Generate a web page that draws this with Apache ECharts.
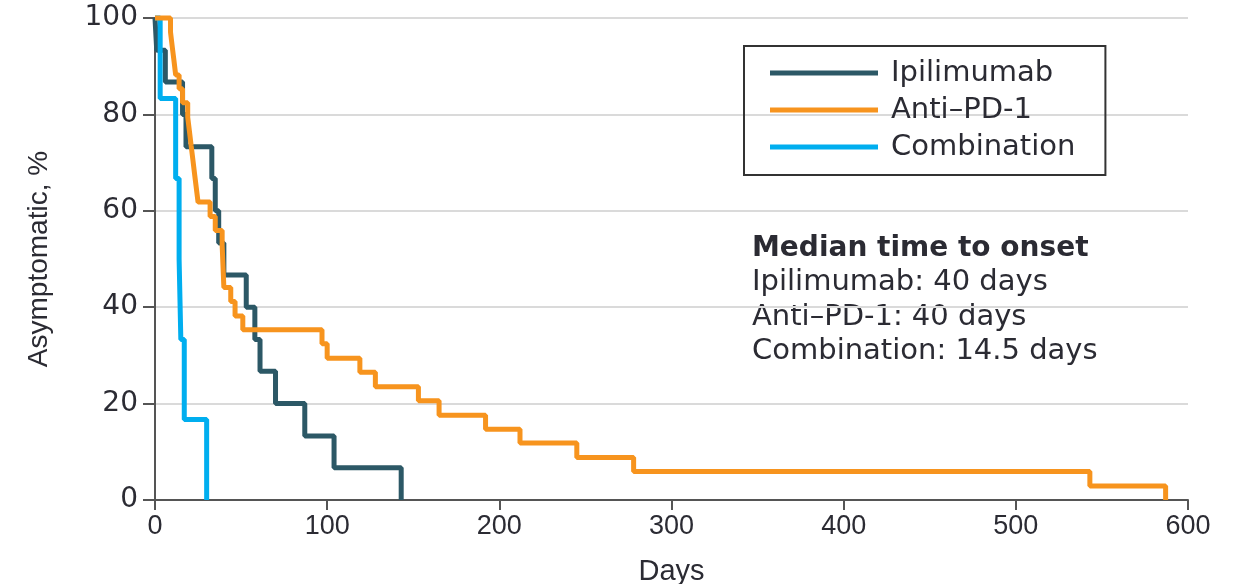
<!DOCTYPE html>
<html>
<head>
<meta charset="utf-8">
<script src="https://cdn.jsdelivr.net/npm/echarts@6/dist/echarts.min.js"></script>
<style>
html, body { margin: 0; padding: 0; background: #fff; }
#echart_km { width: 1233px; height: 584px; }
</style>
</head>
<body>
<div id="echart_km"></div>
<script>
// Kaplan-Meier steps (day of event, % asymptomatic after it)
var ipiDays = [0, 1, 6, 16, 18, 33, 35, 37, 40, 53, 58, 61, 70, 87, 104, 143];
var ipiPct = [100, 93.3, 86.7, 80, 73.3, 66.7, 60, 53.3, 46.7, 40, 33.3, 26.7, 20, 13.3, 6.7, 0];

var pd1Days = [0, 9, 10, 11, 12, 14, 16, 19, 20, 21, 22, 23, 24, 25, 32, 35, 39, 40, 44, 46.5, 51,
    97, 100, 119, 128, 153, 165, 192, 212, 245, 278, 543, 587];
var pd1Pct = [100, 97.1, 94.1, 91.2, 88.2, 85.3, 82.4, 79.4, 76.5, 73.5, 70.6, 67.6, 64.7, 61.8, 58.8, 55.9, 52.9, 44.1, 41.2, 38.2, 35.3,
    32.4, 29.4, 26.5, 23.5, 20.6, 17.6, 14.7, 11.8, 8.8, 5.9, 2.9, 0];

var comboDays = [0, 3, 12, 14, 15, 17, 30];
var comboPct = [100, 83.3, 66.7, 50, 33.3, 16.7, 0];

var seriesNames = ['Ipilimumab', 'Anti–PD-1', 'Combination'];
var xTicks = [0, 600, 100];
var yTicks = [0, 100, 20];
var medianLines = ['Ipilimumab: 40 days', 'Anti–PD-1: 40 days', 'Combination: 14.5 days'];

function pairs(xs, ys) {
    return xs.map(function (x, i) { return [x, ys[i]]; });
}

var textColor = '#2b2b33';

var myChart_km = echarts.init(document.getElementById('echart_km'));
var option_km = {
    animation: false,
    grid: { left: 155, right: 45, top: 18, bottom: 84, outerBoundsMode: 'none' },
    legend: {
        orient: 'vertical',
        left: 744,
        top: 46,
        data: seriesNames,
        icon: 'rect',
        itemWidth: 108,
        itemHeight: 5,
        itemGap: 7,
        itemStyle: { borderWidth: 0 },
        padding: [12, 30, 13, 26],
        borderColor: '#333',
        borderWidth: 2,
        textStyle: { fontFamily: 'DejaVu Sans', fontSize: 29, color: textColor, lineHeight: 30, padding: [0, 0, 0, 8] }
    },
    xAxis: {
        type: 'value',
        min: xTicks[0], max: xTicks[1], interval: xTicks[2],
        name: 'Days',
        nameLocation: 'middle',
        nameGap: 57,
        nameTextStyle: { fontFamily: 'Liberation Sans', fontSize: 29, color: textColor },
        axisLine: { show: true, lineStyle: { color: '#555', width: 2 } },
        axisTick: { show: true, length: 10, lineStyle: { color: '#555', width: 2 } },
        axisLabel: { margin: 13, fontFamily: 'Liberation Sans', fontSize: 27, color: textColor },
        splitLine: { show: false }
    },
    yAxis: {
        type: 'value',
        min: yTicks[0], max: yTicks[1], interval: yTicks[2],
        name: 'Asymptomatic, %',
        nameLocation: 'middle',
        nameGap: 102,
        nameTextStyle: { fontFamily: 'Liberation Sans', fontSize: 28, color: textColor },
        axisLine: { show: true, lineStyle: { color: '#555', width: 2 } },
        axisTick: { show: true, length: 12, lineStyle: { color: '#555', width: 2 } },
        axisLabel: { margin: 17, fontFamily: 'DejaVu Sans', fontSize: 28, color: textColor },
        splitLine: { show: true, lineStyle: { color: '#dadada', width: 2 } }
    },
    graphic: [{
        type: 'text',
        left: 752,
        top: 231,
        style: {
            text: '{b|Median time to onset}\n' + medianLines.join('\n'),
            fill: textColor,
            font: '29px "DejaVu Sans"',
            lineHeight: 34.5,
            rich: { b: { fontWeight: 'bold', fontSize: 28, fontFamily: 'DejaVu Sans', lineHeight: 34.5 } }
        }
    }],
    series: [
        {
            name: seriesNames[0], type: 'line', step: 'end', showSymbol: false, clip: false,
            data: pairs(ipiDays, ipiPct),
            lineStyle: { color: '#2c5866', width: 5 }, itemStyle: { color: '#2c5866' }, z: 2
        },
        {
            name: seriesNames[2], type: 'line', step: 'end', showSymbol: false, clip: false,
            data: pairs(comboDays, comboPct),
            lineStyle: { color: '#00aeef', width: 5 }, itemStyle: { color: '#00aeef' }, z: 3
        },
        {
            name: seriesNames[1], type: 'line', step: 'end', showSymbol: false, clip: false,
            data: pairs(pd1Days, pd1Pct),
            lineStyle: { color: '#f7941e', width: 5 }, itemStyle: { color: '#f7941e' }, z: 4
        }
    ]
};
myChart_km.setOption(option_km);
</script>
</body>
</html>
